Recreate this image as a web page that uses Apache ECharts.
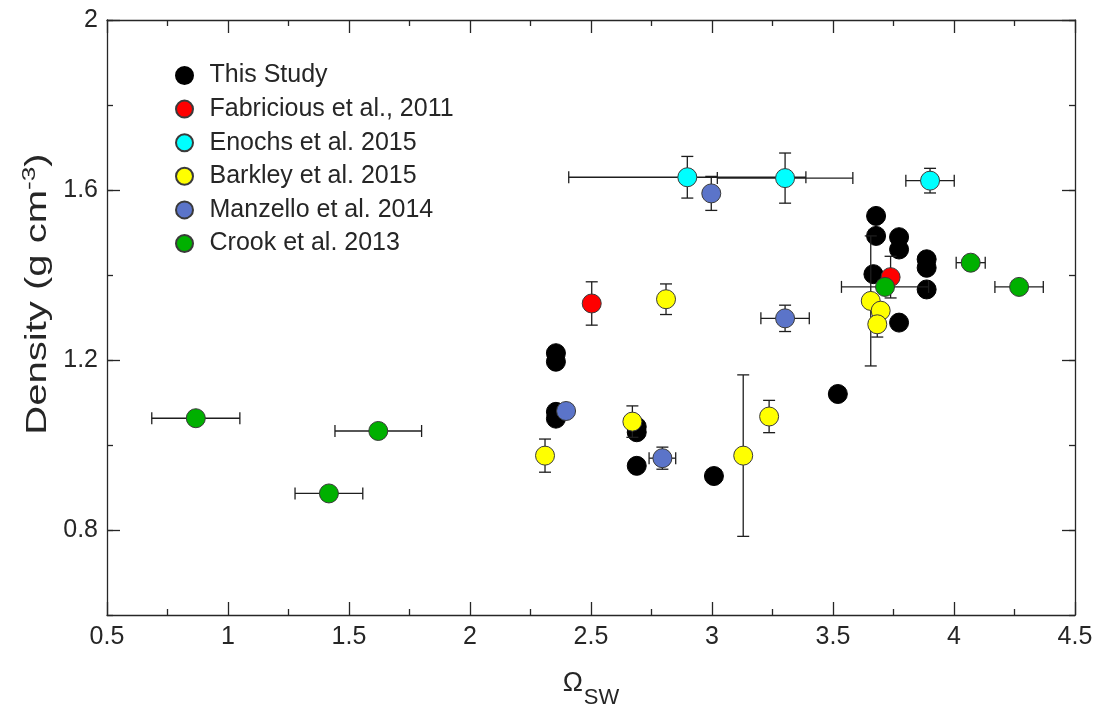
<!DOCTYPE html>
<html>
<head>
<meta charset="utf-8">
<script src="https://cdn.jsdelivr.net/npm/echarts@6/dist/echarts.min.js"></script>
<style>
  html, body { margin: 0; padding: 0; background: #fff; }
  #chart { width: 1099px; height: 717px; }
</style>
</head>
<body>
<div id="chart"></div>
<script>
// Each record: [omegaSW, density, omegaError, densityError]
const thisStudy = [
  [3.678, 1.539, 0, 0], [3.678, 1.492, 0, 0], [3.773, 1.489, 0, 0], [3.773, 1.460, 0, 0],
  [3.887, 1.437, 0, 0], [3.887, 1.417, 0, 0], [3.667, 1.402, 0, 0], [3.887, 1.366, 0, 0],
  [3.773, 1.288, 0, 0], [3.520, 1.120, 0, 0], [2.355, 1.216, 0, 0], [2.355, 1.196, 0, 0],
  [2.355, 1.078, 0, 0], [2.355, 1.062, 0, 0], [2.689, 1.043, 0, 0], [2.689, 1.030, 0, 0],
  [2.689, 0.951, 0, 0], [3.008, 0.927, 0, 0]
];
const fabricius = [
  [2.503, 1.333, 0, 0.051], [3.738, 1.395, 0, 0.049]
];
const enochs = [
  [2.898, 1.630, 0.49, 0.049], [3.302, 1.628, 0.28, 0.059], [3.901, 1.622, 0.10, 0.029]
];
const barkley = [
  [2.810, 1.343, 0, 0.036], [2.671, 1.055, 0, 0.037], [2.310, 0.975, 0, 0.039],
  [3.129, 0.975, 0, 0.190], [3.236, 1.067, 0, 0.038], [3.656, 1.339, 0, 0.153],
  [3.697, 1.316, 0, 0], [3.683, 1.284, 0, 0.030]
];
const manzello = [
  [2.997, 1.592, 0, 0.040], [3.302, 1.298, 0.10, 0.031], [2.397, 1.080, 0, 0],
  [2.795, 0.969, 0.055, 0.026]
];
const crook = [
  [0.867, 1.063, 0.182, 0], [1.621, 1.033, 0.179, 0], [1.417, 0.886, 0.14, 0],
  [3.715, 1.372, 0.18, 0], [4.069, 1.429, 0.06, 0], [4.269, 1.372, 0.10, 0]
];

const seriesNames = ['This Study', 'Fabricious et al., 2011', 'Enochs et al. 2015',
  'Barkley et al. 2015', 'Manzello et al. 2014', 'Crook et al. 2013'];
const seriesColors = ['#000000', '#ff0000', '#00ffff', '#ffff00', '#5b74c9', '#00b000'];
const seriesData = [thisStudy, fabricius, enochs, barkley, manzello, crook];

const yMajorTicks = [0.8, 1.2, 1.6, 2.0];
const textColor = '#262626';
const fontFamily = '"Liberation Sans", Arial, sans-serif';

const chart = echarts.init(document.getElementById('chart'), null, { renderer: 'canvas' });

function errorBars(params, api) {
  const x = api.value(0), y = api.value(1), ex = api.value(2), ey = api.value(3);
  const cap = 6;
  const style = { stroke: '#1e1e1e', lineWidth: 1.3 };
  const kids = [];
  if (ey > 0) {
    const t = api.coord([x, y + ey]), b = api.coord([x, y - ey]);
    kids.push({ type: 'line', shape: { x1: t[0], y1: t[1], x2: b[0], y2: b[1] }, style });
    kids.push({ type: 'line', shape: { x1: t[0] - cap, y1: t[1], x2: t[0] + cap, y2: t[1] }, style });
    kids.push({ type: 'line', shape: { x1: b[0] - cap, y1: b[1], x2: b[0] + cap, y2: b[1] }, style });
  }
  if (ex > 0) {
    const l = api.coord([x - ex, y]), r = api.coord([x + ex, y]);
    kids.push({ type: 'line', shape: { x1: l[0], y1: l[1], x2: r[0], y2: r[1] }, style });
    kids.push({ type: 'line', shape: { x1: l[0], y1: l[1] - cap, x2: l[0], y2: l[1] + cap }, style });
    kids.push({ type: 'line', shape: { x1: r[0], y1: r[1] - cap, x2: r[0], y2: r[1] + cap }, style });
  }
  return { type: 'group', children: kids };
}

const series = [];
seriesData.forEach((d, i) => {
  series.push({
    type: 'custom',
    name: seriesNames[i] + ' error',
    renderItem: errorBars,
    data: d,
    encode: { x: 0, y: 1 },
    z: 2 + i * 2,
    silent: true
  });
  series.push({
    type: 'scatter',
    name: seriesNames[i],
    data: d.map(r => [r[0], r[1]]),
    symbol: 'circle',
    symbolSize: 19,
    z: 3 + i * 2,
    itemStyle: {
      color: seriesColors[i],
      borderColor: i === 0 ? '#000' : '#3a3a3a',
      borderWidth: 1,
      opacity: 1
    }
  });
});

const axisLineStyle = { color: textColor, width: 1.3 };

chart.setOption({
  animation: false,
  backgroundColor: '#ffffff',
  textStyle: { fontFamily },
  grid: { left: 107, right: 24, top: 20, bottom: 102, containLabel: false },
  legend: {
    data: seriesNames,
    orient: 'vertical',
    left: 170,
    top: 58,
    itemWidth: 40,
    itemHeight: 17,
    itemGap: 8.6,
    icon: 'circle',
    textStyle: { fontSize: 25, color: textColor, fontFamily, lineHeight: 25 },
    selectedMode: false
  },
  // Vertical axis title, drawn elongated along its reading direction
  graphic: [
    {
      type: 'text',
      x: 38,
      y: 294,
      rotation: Math.PI / 2,
      scaleX: 1.38,
      silent: true,
      style: {
        text: 'Density (g cm{sup|-3})',
        fontSize: 29,
        fontFamily,
        fill: textColor,
        align: 'center',
        verticalAlign: 'middle',
        rich: {
          sup: { fontSize: 19, fontFamily, fill: textColor, verticalAlign: 'top', lineHeight: 36 }
        }
      }
    }
  ],
  xAxis: [
    {
      type: 'value', min: 0.5, max: 4.5, interval: 0.5, position: 'bottom',
      axisLine: { show: true, onZero: false, lineStyle: axisLineStyle },
      axisTick: { show: true, inside: true, length: 13, lineStyle: axisLineStyle },
      minorTick: { show: true, splitNumber: 2, length: 6, lineStyle: axisLineStyle },
      splitLine: { show: false },
      axisLabel: { fontSize: 25, color: textColor, margin: 10, fontFamily },
      name: '{o|Ω}{s|SW}',
      nameLocation: 'middle',
      nameGap: 55,
      nameTextStyle: {
        color: textColor,
        rich: {
          o: { fontSize: 27, color: textColor, fontFamily, verticalAlign: 'top', lineHeight: 45 },
          s: { fontSize: 22, color: textColor, fontFamily, verticalAlign: 'top', lineHeight: 45, padding: [17, 0, 0, 1] }
        }
      }
    },
    {
      type: 'value', min: 0.5, max: 4.5, interval: 0.5, position: 'top',
      axisLine: { show: true, onZero: false, lineStyle: axisLineStyle },
      axisTick: { show: true, inside: true, length: 13, lineStyle: axisLineStyle },
      minorTick: { show: true, splitNumber: 2, length: 6, lineStyle: axisLineStyle },
      splitLine: { show: false },
      axisLabel: { show: false }
    }
  ],
  yAxis: [
    {
      type: 'value', min: 0.6, max: 2, interval: 0.2, position: 'left',
      axisLine: { show: true, onZero: false, lineStyle: axisLineStyle },
      axisTick: { show: true, inside: true, length: 6, lineStyle: axisLineStyle },
      splitLine: { show: false },
      axisLabel: { show: false }
    },
    {
      type: 'value', min: 0.6, max: 2, position: 'left',
      axisLine: { show: false },
      axisTick: { show: true, inside: true, length: 13, lineStyle: axisLineStyle, customValues: yMajorTicks },
      splitLine: { show: false },
      axisLabel: {
        fontSize: 25, color: textColor, margin: 9, fontFamily,
        customValues: yMajorTicks,
        formatter: v => (Math.abs(v - 2) < 1e-9 ? '2' : String(+v.toFixed(1)))
      }
    },
    {
      type: 'value', min: 0.6, max: 2, interval: 0.2, position: 'right',
      axisLine: { show: true, onZero: false, lineStyle: axisLineStyle },
      axisTick: { show: true, inside: true, length: 6, lineStyle: axisLineStyle },
      splitLine: { show: false },
      axisLabel: { show: false }
    },
    {
      type: 'value', min: 0.6, max: 2, position: 'right',
      axisLine: { show: false },
      axisTick: { show: true, inside: true, length: 13, lineStyle: axisLineStyle, customValues: yMajorTicks },
      splitLine: { show: false },
      axisLabel: { show: false }
    }
  ],
  series
});
</script>
</body>
</html>
